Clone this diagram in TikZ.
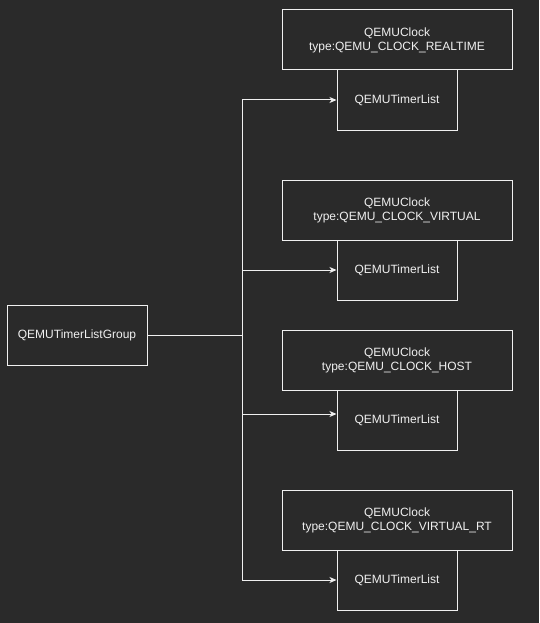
\documentclass[tikz,border=0pt]{standalone}
\usepackage{fontspec}
\setmainfont{Liberation Sans}
\usetikzlibrary{arrows.meta}
\definecolor{bg}{HTML}{2A2A2A}
\definecolor{fg}{HTML}{F0F0F0}
\begin{document}
\begin{tikzpicture}[x=1pt,y=-1pt,
  box/.style={draw=fg,line width=1pt,fill=bg,text=fg,font=\fontsize{12}{14}\selectfont,align=center,inner sep=0pt},
  clockbox/.style={box,minimum width=230pt,minimum height=60pt},
  listbox/.style={box,minimum width=120pt,minimum height=60pt},
  grpbox/.style={box,minimum width=140pt,minimum height=60pt},
  conn/.style={draw=fg,line width=1pt},
  arr/.style={conn,-{Stealth[length=7pt,width=6pt,inset=2pt]}}]
\fill[bg] (0,0) rectangle (539,623);
\useasboundingbox (0,0) rectangle (539,623);
\node[grpbox] (g) at (77,335) {QEMUTimerListGroup};
\node[clockbox] (c1) at (397,40) {QEMUClock\\type:QEMU\_CLOCK\_REALTIME};
\node[listbox] (l1) at (397,100) {QEMUTimerList};
\node[clockbox] (c2) at (397,210) {QEMUClock\\type:QEMU\_CLOCK\_VIRTUAL};
\node[listbox] (l2) at (397,270) {QEMUTimerList};
\node[clockbox] (c3) at (397,360) {QEMUClock\\type:QEMU\_CLOCK\_HOST};
\node[listbox] (l3) at (397,420) {QEMUTimerList};
\node[clockbox] (c4) at (397,520) {QEMUClock\\type:QEMU\_CLOCK\_VIRTUAL\_RT};
\node[listbox] (l4) at (397,580) {QEMUTimerList};
\coordinate (j) at (242,335);
\draw[conn] (g.east) -- (j);
\draw[arr] (j) |- (l1.west);
\draw[arr] (j) |- (l2.west);
\draw[arr] (j) |- ([yshift=6pt]l3.west);
\draw[arr] (j) |- (l4.west);
\end{tikzpicture}
\end{document}
